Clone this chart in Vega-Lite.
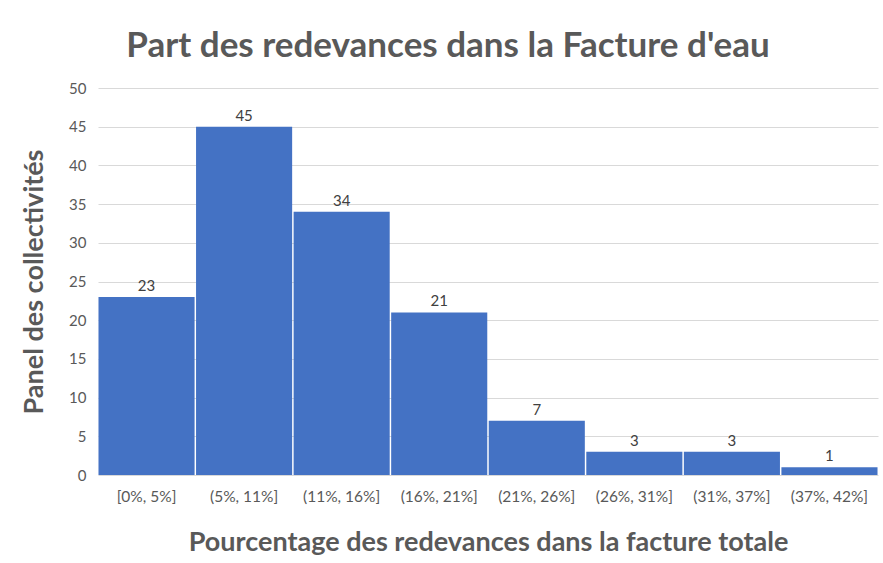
{
  "$schema": "https://vega.github.io/schema/vega-lite/v6.json",
  "width": 780,
  "height": 387,
  "autosize": {"type": "none"},
  "padding": {"left": 98, "top": 88, "right": 5, "bottom": 88},
  "background": "white",
  "title": {
    "text": "Part des redevances dans la Facture d'eau",
    "font": "Lato",
    "fontSize": 35,
    "fontWeight": "bold",
    "color": "#595959",
    "anchor": "middle",
    "frame": "group",
    "dx": -40,
    "offset": 17
  },
  "data": {
    "values": [
      {"tranche": "[0%, 5%]", "n": 23},
      {"tranche": "(5%, 11%]", "n": 45},
      {"tranche": "(11%, 16%]", "n": 34},
      {"tranche": "(16%, 21%]", "n": 21},
      {"tranche": "(21%, 26%]", "n": 7},
      {"tranche": "(26%, 31%]", "n": 3},
      {"tranche": "(31%, 37%]", "n": 3},
      {"tranche": "(37%, 42%]", "n": 1}
    ]
  },
  "encoding": {
    "x": {
      "field": "tranche",
      "type": "nominal",
      "sort": null,
      "scale": {"paddingInner": 0.015, "paddingOuter": 0.005},
      "axis": {
        "title": "Pourcentage des redevances dans la facture totale",
        "titleFont": "Lato",
        "titleFontSize": 27,
        "titleFontWeight": "bold",
        "titleColor": "#595959",
        "titlePadding": 25,
        "labelAngle": 0,
        "labelFont": "Lato",
        "labelFontSize": 15.5,
        "labelColor": "#595959",
        "labelPadding": 14,
        "ticks": false,
        "domain": false,
        "grid": false
      }
    },
    "y": {
      "field": "n",
      "type": "quantitative",
      "scale": {"domain": [0, 50]},
      "axis": {
        "title": "Panel des collectivités",
        "titleFont": "Lato",
        "titleFontSize": 27,
        "titleFontWeight": "bold",
        "titleColor": "#595959",
        "titlePadding": 20,
        "values": [0, 5, 10, 15, 20, 25, 30, 35, 40, 45, 50],
        "labelFont": "Lato",
        "labelFontSize": 15,
        "labelColor": "#595959",
        "labelPadding": 12,
        "ticks": false,
        "domain": false,
        "grid": true,
        "gridColor": "#d9d9d9",
        "gridWidth": 1
      }
    }
  },
  "layer": [
    {"mark": {"type": "bar", "color": "#4472C4"}},
    {
      "mark": {"type": "text", "baseline": "bottom", "dy": -3, "font": "Lato", "fontSize": 15, "color": "#404040"},
      "encoding": {"text": {"field": "n", "type": "quantitative"}}
    }
  ],
  "config": {"view": {"stroke": null}}
}
